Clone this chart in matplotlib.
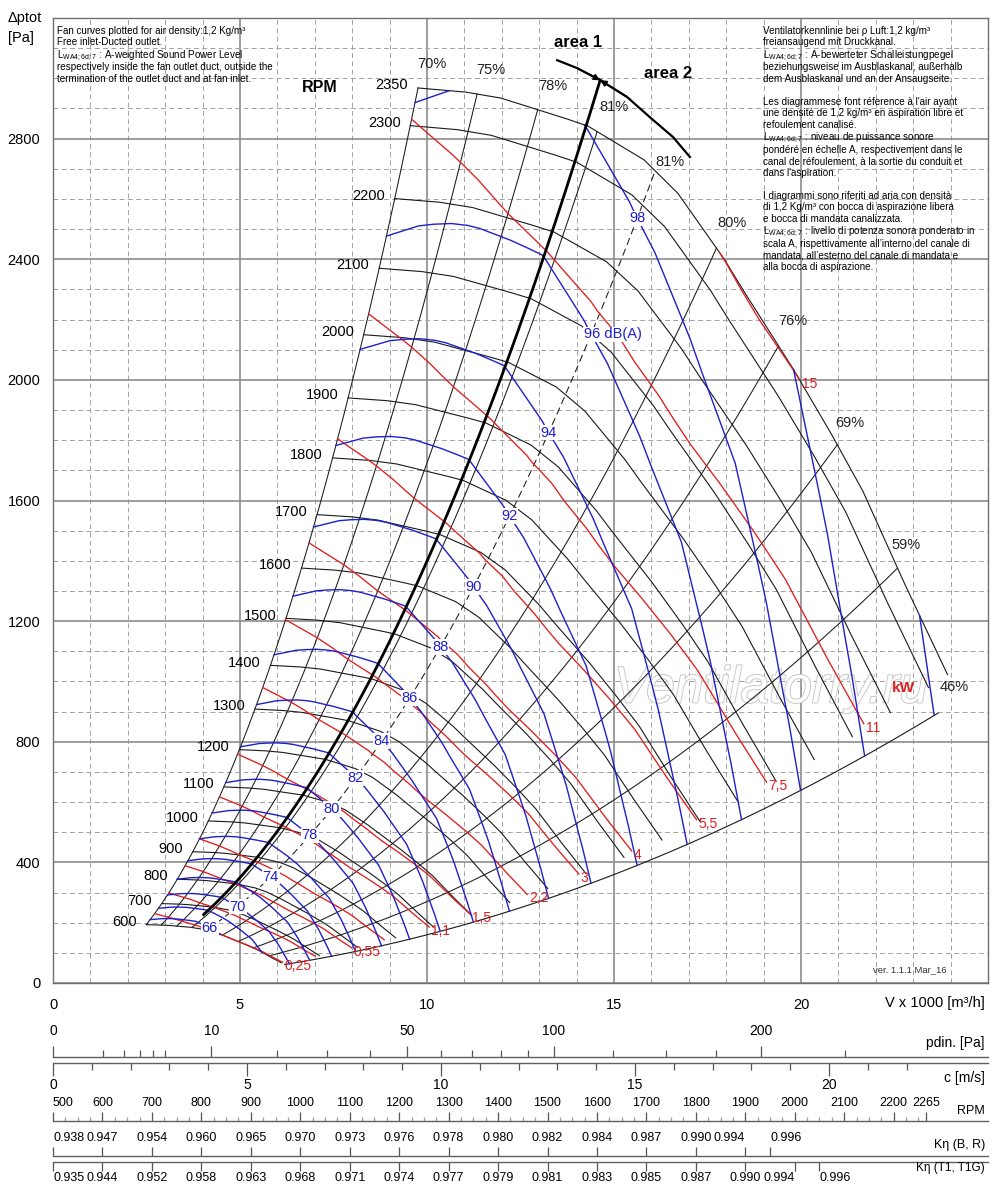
import numpy as np
import matplotlib.pyplot as plt
from matplotlib.ticker import FixedLocator, MultipleLocator
from matplotlib import patheffects

plt.rcParams['font.family'] = ['Liberation Sans', 'DejaVu Sans']
plt.rcParams['mathtext.fontset'] = 'custom'
plt.rcParams['mathtext.rm'] = 'Liberation Sans'

W, H = 1000, 1184
NARROW = ['Liberation Sans Narrow', 'Liberation Sans', 'DejaVu Sans']
BLUE = '#1f1fcc'
RED = '#e01e1e'
INK = '#1a1a1a'

# ---- values ----
# fan curve at top speed: flow in 1000 m3/h, total pressure in Pa
top_rpm = 2350
base_q = [9.76, 11.0, 11.96, 13.58, 14.3, 15.8, 16.7, 17.4, 17.96, 18.4,
          19.76, 20.75, 21.64, 22.72, 23.92, 24.25]
base_p = [2968, 2955, 2935, 2872, 2842, 2730, 2620, 2497, 2398, 2308,
          2043, 1834, 1635, 1337, 1022, 940]
curve_end_q = 23.92   # rpm curves stop on the 46% line
red_end_q = 23.85     # kW lines stop here, label next to the end

rpm_list = [600, 700, 800, 900, 1000, 1100, 1200, 1300, 1400, 1500, 1600,
            1700, 1800, 1900, 2000, 2100, 2200, 2300, 2350]

# efficiency lines, given by where they meet the top-speed curve
eff_q = [9.76, 11.34, 12.96, 14.55, 16.1, 17.74, 19.4, 20.97, 22.58]
eff_names = ['70%', '75%', '78%', '81%', '81%', '80%', '76%', '69%', '59%']

# sound power level along the top-speed curve, dB(A)
snd_q = [9.76, 10.6, 11.5, 12.3, 13.2, 14.2, 16.0, 18.0, 19.8, 21.5, 23.17, 24.25]
snd_db = [98.2, 98.0, 97.9, 97.88, 97.92, 98.0, 98.7, 99.35, 100.0, 101.0, 102.0, 102.7]
db_levels = [66, 68, 70, 72, 74, 76, 78, 80, 82, 84, 86, 88, 90, 92, 94, 96, 98, 100, 102]
db_shown = [66, 70, 74, 78, 80, 82, 84, 86, 88, 90, 92, 94, 96, 98]
db_per_decade = 56

# shaft power along the top-speed curve, kW
pw_q = [9.76, 11.34, 12.96, 14.3, 16.0, 17.2, 18.06, 18.9, 19.76, 20.97, 22.2, 23.4, 24.25]
pw_kw = [11.6, 12.4, 13.3, 13.95, 14.68, 14.95, 15.02, 15.08, 15.02, 14.9, 14.8, 14.7, 14.6]
kw_levels = [0.25, 0.37, 0.55, 0.75, 1.1, 1.5, 2.2, 3, 4, 5.5, 7.5, 11, 15]
kw_names = ['0,25', '', '0,55', '', '1,1', '1,5', '2,2', '3', '4', '5,5', '7,5', '11', '15']

# area 1 / area 2 border and the arrow arc over it
border_q = [4.03, 14.63]
border_p_top = 2994
arc_q = [13.48, 14.01, 14.63, 15.35, 15.96, 16.58, 17.03]
arc_p = [3060, 3034, 2994, 2938, 2871, 2805, 2739]

# scales under the chart
pdin_major = [0, 10, 50, 100, 200]
pdin_minor = [1, 2, 3, 4, 5, 20, 30, 40, 60, 70, 80, 90, 125, 150, 175, 250]
c_major = [0, 5, 10, 15, 20]
c_minor = list(range(1, 23))
rpm_scale = [500, 600, 700, 800, 900, 1000, 1100, 1200, 1300, 1400, 1500,
             1600, 1700, 1800, 1900, 2000, 2100, 2200, 2265]
kbr_rpm = [500, 600, 700, 800, 900, 1000, 1100, 1200, 1300, 1400, 1500,
           1600, 1700, 1800, 1900, 1950]
kbr_vals = ['0.938', '0.947', '0.954', '0.960', '0.965', '0.970', '0.973', '0.976',
            '0.978', '0.980', '0.982', '0.984', '0.987', '0.990', '0.994', '0.996']
ktg_rpm = [500, 600, 700, 800, 900, 1000, 1100, 1200, 1300, 1400, 1500,
           1600, 1700, 1800, 1900, 2000, 2050]
ktg_vals = ['0.935', '0.944', '0.952', '0.958', '0.963', '0.968', '0.971', '0.974',
            '0.977', '0.979', '0.981', '0.983', '0.985', '0.987', '0.990', '0.994', '0.996']

text_en = ['Fan curves plotted for air density:1,2 Kg/m³',
           'Free inlet-Ducted outlet.',
           r'L$_{\mathregular{WA4;6d;7}}$ : A-weighted Sound Power Level',
           'respectively inside the fan outlet duct, outside the',
           'termination of the outlet duct and at fan inlet.']
text_other = ['Ventilatorkennlinie bei ρ Luft:1,2 kg/m³',
              'freiansaugend mit Druckkanal.',
              r'L$_{\mathregular{WA4;6d;7}}$ : A-bewerteter Schalleistungpegel',
              'beziehungsweise im Ausblaskanal, außerhalb',
              'dem Ausblaskanal und an der Ansaugseite.',
              '',
              'Les diagrammese font réference à l\'air ayant',
              'une densité de 1,2 kg/m³ en aspiration libre et',
              'refoulement canalisé.',
              r'L$_{\mathregular{WA4;6d;7}}$ : niveau de puissance sonore',
              'pondéré en échelle A, respectivement dans le',
              'canal de réfoulement, à la sortie du conduit et',
              'dans l\'aspiration.',
              '',
              'I diagrammi sono riferiti ad aria con densità',
              'di 1,2 Kg/m³ con bocca di aspirazione libera',
              'e bocca di mandata canalizzata.',
              r'L$_{\mathregular{WA4;6d;7}}$ : livello di potenza sonora ponderato in',
              'scala A, rispettivamente all’interno del canale di',
              'mandata, all’esterno del canale di mandata e',
              'alla bocca di aspirazione.']

# ---- main chart ----
fig = plt.figure(figsize=(W / 100, H / 100), dpi=100)
ax = fig.add_axes([53 / W, 1 - 983 / H, 935 / W, 965 / H])
ax.set_xlim(0, 25)
ax.set_ylim(0, 3200)
ax.xaxis.set_major_locator(FixedLocator([0, 5, 10, 15, 20]))
ax.xaxis.set_minor_locator(MultipleLocator(1))
ax.yaxis.set_major_locator(FixedLocator(list(range(0, 2801, 400))))
ax.yaxis.set_minor_locator(MultipleLocator(100))
ax.grid(which='major', color='#8c8c8c', lw=1.2)
ax.grid(which='minor', color='#a2a2a2', lw=0.7, ls=(0, (5, 3.5)))
ax.set_axisbelow(True)
ax.tick_params(which='both', length=0)
ax.tick_params(axis='y', pad=9, labelsize=10.5)
ax.tick_params(axis='x', pad=11, labelsize=10.5)
for sp in ax.spines.values():
    sp.set_color('#707070')
    sp.set_linewidth(1)

bq = np.array(base_q)
bp = np.array(base_p)
s_min = rpm_list[0] / top_rpm
ve = np.linspace(bq[0], bq[-1], 3000)
pb = np.interp(ve, bq, bp)


def p_top(q):
    return np.interp(q, bq, bp)


# watermark
ax.text(19.2, 975, 'Ventilatorry.ru', fontsize=37, style='italic', color='white',
        ha='center', va='center', zorder=1.5,
        path_effects=[patheffects.withStroke(linewidth=1.3, foreground='#c6c6c6')])

# rpm curves
on_curve = ve <= curve_end_q
for n in rpm_list:
    s = n / top_rpm
    ax.plot(ve[on_curve] * s, pb[on_curve] * s ** 2, color=INK, lw=0.8, zorder=3)
    ax.annotate(str(n), (bq[0] * s, bp[0] * s ** 2), xytext=(-7, 2),
                textcoords='offset points', ha='right', va='center', fontsize=10.5, zorder=6)
ax.text(7.14, 2971, 'RPM', fontsize=11.5, fontweight='bold', ha='center', va='center')

# efficiency lines
sl = np.linspace(s_min, 1, 200)
eff_off = [(10, 17), (10, 17), (11, 17), (12, 18), (11, 6), (11, 18), (10, 18), (9, 16), (6, 17)]
for i, (q, name) in enumerate(zip(eff_q, eff_names)):
    ls = (0, (7, 4)) if i == 4 else '-'
    ax.plot(q * sl, p_top(q) * sl ** 2, color=INK, lw=0.75, ls=ls, zorder=3)
    ax.annotate(name, (q, p_top(q)), xytext=eff_off[i], textcoords='offset points',
                ha='center', va='center', fontsize=10.5, color='#222222', zorder=6)
ax.annotate('46%', (curve_end_q, p_top(curve_end_q)), xytext=(5, -9),
            textcoords='offset points', ha='center', va='center', fontsize=10.5, color='#222222')

# lower border of the field
sb = np.linspace(s_min, 0.976, 100)
ax.plot(bq[-1] * sb, bp[-1] * sb ** 2, color=INK, lw=0.8, zorder=3)

# kW lines
pw = np.interp(ve, pw_q, pw_kw)
for P, name in zip(kw_levels, kw_names):
    s = (P / pw) ** (1 / 3)
    ok = (s <= 1) & (ve <= red_end_q)
    x = np.where(ok, ve * s, np.nan)
    y = np.where(ok, pb * s ** 2, np.nan)
    ax.plot(x, y, color=RED, lw=0.95, zorder=4)
    if name:
        k = np.nonzero(ok)[0][-1]
        ax.annotate(name, (x[k], y[k]), xytext=(1.5, -3), textcoords='offset points',
                    ha='left', va='center', fontsize=10, color=RED, zorder=6)
ax.text(22.75, 978, 'kW', fontsize=11, fontweight='bold', color=RED, ha='center', va='center')

# dB(A) lines
lb = np.interp(ve, snd_q, snd_db)
q_lab = 16.1
lb_lab = np.interp(q_lab, snd_q, snd_db)
for L in db_levels:
    s = 10 ** ((L - lb) / db_per_decade)
    ok = (s <= 1) & (s >= s_min)
    ax.plot(np.where(ok, ve * s, np.nan), np.where(ok, pb * s ** 2, np.nan),
            color=BLUE, lw=1.0, zorder=4)
    if L in db_shown:
        sL = 10 ** ((L - lb_lab) / db_per_decade)
        pos = (q_lab * sL, p_top(q_lab) * sL ** 2)
        txt = '96 dB(A)' if L == 96 else str(L)
        ax.annotate(txt, pos, xytext=(-5, 0) if L == 96 else (0, 0), textcoords='offset points',
                    ha='left' if L == 96 else 'center', va='center', fontsize=10.5,
                    color=BLUE, zorder=7,
                    bbox=dict(boxstyle='square,pad=0.05', fc='white', ec='none'))

# area border and arrow
qb = np.linspace(border_q[0], border_q[1], 100)
ax.plot(qb, border_p_top * (qb / border_q[1]) ** 2, color='black', lw=2.0, zorder=5)
ax.plot(arc_q, arc_p, color='black', lw=1.6, zorder=5)
for j in (1, 3):
    ax.annotate('', xy=(arc_q[2], arc_p[2]), xytext=(arc_q[j], arc_p[j]),
                arrowprops=dict(arrowstyle='-|>', color='black', lw=1.2,
                                mutation_scale=9, shrinkA=0, shrinkB=0), zorder=5)
ax.text(14.04, 3120, 'area 1', fontsize=12, fontweight='bold', ha='center', va='center')
ax.text(16.44, 3017, 'area 2', fontsize=12, fontweight='bold', ha='center', va='center')

ax.text(21.93, 43, 'ver. 1.1.1 Mar_16', fontsize=6.8, color='#333333', ha='left', va='center')

# notes
for i, line in enumerate(text_en):
    y = 30.7 + i * 11.5 + (2 if i >= 2 else 0)
    fig.text(57 / W, 1 - y / H, line, fontsize=7.1, ha='left', va='center')
extra = 0
for i, line in enumerate(text_other):
    if line.startswith('L$'):
        extra += 2
    if line:
        y = 30.7 + i * 11.5 + extra
        fig.text(763 / W, 1 - y / H, line, fontsize=7.1, ha='left', va='center')

fig.text(8 / W, 1 - 18 / H, 'Δptot', fontsize=10.5, ha='left', va='center')
fig.text(8 / W, 1 - 38 / H, '[Pa]', fontsize=10.5, ha='left', va='center')
fig.text(985 / W, 1 - 1003 / H, 'V x 1000 [m³/h]', fontsize=10.5, ha='right', va='center')


# ---- scales below ----
def scale_axis(y_px, side):
    h = 0.001
    bottom = 1 - y_px / H - (h if side == 'top' else 0)
    sa = fig.add_axes([53 / W, bottom, 935 / W, h])
    sa.set_yticks([])
    sa.patch.set_alpha(0)
    for name, sp in sa.spines.items():
        sp.set_visible(name == side)
        sp.set_color('#606060')
        sp.set_linewidth(1)
    sa.xaxis.set_ticks_position(side)
    sa.tick_params(axis='x', which='both', direction='out', color='#555555', width=0.9)
    return sa


c_max = 24.1
sp_ax = scale_axis(1057, 'top')
sp_ax.set_xscale('function', functions=(lambda x: np.sqrt(np.clip(x, 0, None)), np.square))
sp_ax.set_xlim(0, 0.6 * c_max ** 2)
sp_ax.set_xticks(pdin_major, [str(v) for v in pdin_major])
sp_ax.set_xticks(pdin_minor, minor=True)
sp_ax.tick_params(which='major', length=8, pad=6, labelsize=10)
sp_ax.tick_params(which='minor', length=5)

sc_ax = scale_axis(1063, 'bottom')
sc_ax.set_xlim(0, c_max)
sc_ax.set_xticks(c_major, [str(v) for v in c_major])
sc_ax.set_xticks(c_minor, minor=True)
sc_ax.tick_params(which='major', length=9, pad=1.5, labelsize=10)
sc_ax.tick_params(which='minor', length=5)

rpm_hi = 500 + 935 / 0.4945
sr_ax = scale_axis(1121, 'top')
sr_ax.set_xlim(500, rpm_hi)
sr_ax.set_xticks(rpm_scale, [str(v) for v in rpm_scale])
sr_ax.set_xticks(np.arange(500, 2251, 25), minor=True)
sr_ax.tick_params(which='major', length=6.5, pad=2, labelsize=9, labelfontfamily=NARROW)
sr_ax.tick_params(which='minor', length=3, color='#999999')

skb = scale_axis(1156, 'top')
skb.set_xlim(500, rpm_hi)
skb.set_xticks(kbr_rpm, kbr_vals)
skb.tick_params(length=6.5, pad=2, labelsize=9, labelfontfamily=NARROW)

skt = scale_axis(1162, 'bottom')
skt.set_xlim(500, rpm_hi)
skt.set_xticks(ktg_rpm, ktg_vals)
skt.tick_params(length=6.5, pad=0.5, labelsize=9, labelfontfamily=NARROW)

for sa in (sr_ax, skb, skt):
    labs = sa.get_xticklabels()
    labs[0].set_horizontalalignment('left')
for sa in (skb, skt):
    labs = sa.get_xticklabels()
    labs[-2].set_horizontalalignment('right')
    labs[-1].set_horizontalalignment('left')

fig.text(985 / W, 1 - 1043 / H, 'pdin. [Pa]', fontsize=10, ha='right', va='center')
fig.text(985 / W, 1 - 1078 / H, 'c [m/s]', fontsize=10, ha='right', va='center')
fig.text(985 / W, 1 - 1111 / H, 'RPM', fontsize=9, family=NARROW, ha='right', va='center')
fig.text(985 / W, 1 - 1145 / H, 'Kη (B, R)', fontsize=9, family=NARROW, ha='right', va='center')
fig.text(985 / W, 1 - 1168 / H, 'Kη (T1, T1G)', fontsize=8.5, family=NARROW, ha='right', va='center')

fig.savefig('out.png', dpi=100)
